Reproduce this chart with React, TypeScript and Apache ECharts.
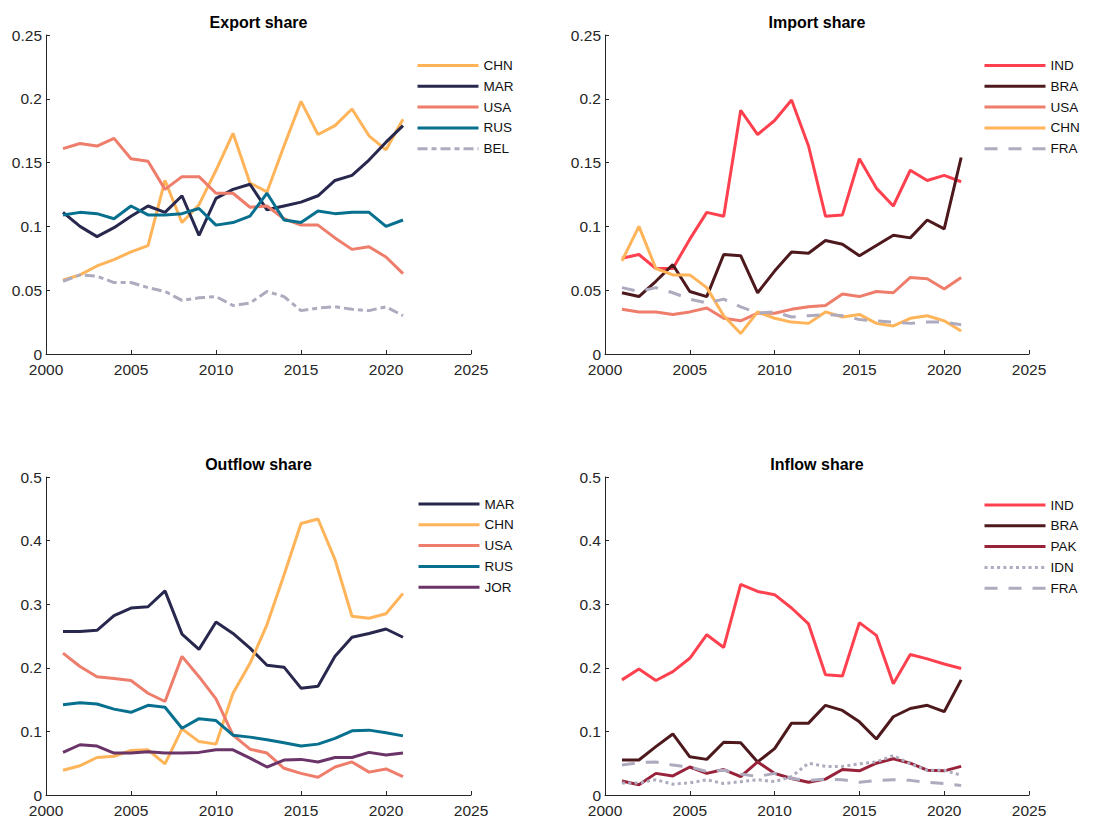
import React, { useEffect, useRef } from "react";
import * as echarts from "echarts";

const years = [2001, 2002, 2003, 2004, 2005, 2006, 2007, 2008, 2009, 2010, 2011, 2012, 2013, 2014, 2015, 2016, 2017, 2018, 2019, 2020, 2021];

// Export share
const exportCHN = [0.058, 0.062, 0.069, 0.074, 0.080, 0.085, 0.136, 0.103, 0.117, 0.144, 0.173, 0.134, 0.127, 0.163, 0.198, 0.172, 0.179, 0.192, 0.171, 0.160, 0.184];
const exportMAR = [0.111, 0.100, 0.092, 0.099, 0.108, 0.116, 0.111, 0.124, 0.093, 0.122, 0.129, 0.133, 0.113, 0.116, 0.119, 0.124, 0.136, 0.140, 0.152, 0.166, 0.179];
const exportUSA = [0.161, 0.165, 0.163, 0.169, 0.153, 0.151, 0.129, 0.139, 0.139, 0.126, 0.126, 0.115, 0.116, 0.106, 0.101, 0.101, 0.091, 0.082, 0.084, 0.076, 0.063];
const exportRUS = [0.109, 0.111, 0.110, 0.106, 0.116, 0.109, 0.109, 0.110, 0.114, 0.101, 0.103, 0.108, 0.126, 0.105, 0.103, 0.112, 0.110, 0.111, 0.111, 0.100, 0.105];
const exportBEL = [0.057, 0.062, 0.061, 0.056, 0.056, 0.052, 0.049, 0.042, 0.044, 0.045, 0.038, 0.040, 0.049, 0.045, 0.034, 0.036, 0.037, 0.035, 0.034, 0.037, 0.030];

// Import share
const importIND = [0.075, 0.078, 0.067, 0.067, 0.090, 0.111, 0.108, 0.191, 0.172, 0.183, 0.199, 0.163, 0.108, 0.109, 0.153, 0.130, 0.116, 0.144, 0.136, 0.140, 0.135];
const importBRA = [0.048, 0.045, 0.057, 0.070, 0.049, 0.045, 0.078, 0.077, 0.048, 0.065, 0.080, 0.079, 0.089, 0.086, 0.077, 0.085, 0.093, 0.091, 0.105, 0.098, 0.154];
const importUSA = [0.035, 0.033, 0.033, 0.031, 0.033, 0.036, 0.028, 0.026, 0.032, 0.032, 0.035, 0.037, 0.038, 0.047, 0.045, 0.049, 0.048, 0.060, 0.059, 0.051, 0.060];
const importCHN = [0.073, 0.100, 0.067, 0.062, 0.062, 0.052, 0.030, 0.016, 0.033, 0.028, 0.025, 0.024, 0.033, 0.029, 0.031, 0.024, 0.022, 0.028, 0.030, 0.026, 0.018];
const importFRA = [0.052, 0.049, 0.052, 0.048, 0.043, 0.040, 0.043, 0.037, 0.032, 0.033, 0.029, 0.030, 0.031, 0.030, 0.027, 0.026, 0.025, 0.024, 0.025, 0.025, 0.023];

// Outflow share
const outMAR = [0.257, 0.257, 0.259, 0.282, 0.294, 0.296, 0.321, 0.253, 0.229, 0.272, 0.254, 0.231, 0.204, 0.201, 0.168, 0.171, 0.218, 0.248, 0.254, 0.261, 0.248];
const outCHN = [0.039, 0.046, 0.059, 0.061, 0.070, 0.071, 0.049, 0.104, 0.084, 0.080, 0.160, 0.207, 0.268, 0.346, 0.427, 0.434, 0.370, 0.281, 0.278, 0.285, 0.317];
const outUSA = [0.223, 0.202, 0.186, 0.183, 0.180, 0.160, 0.147, 0.218, 0.186, 0.151, 0.094, 0.072, 0.066, 0.042, 0.034, 0.028, 0.044, 0.052, 0.036, 0.041, 0.029];
const outRUS = [0.142, 0.145, 0.143, 0.135, 0.130, 0.141, 0.138, 0.105, 0.120, 0.117, 0.094, 0.091, 0.087, 0.082, 0.077, 0.080, 0.089, 0.101, 0.102, 0.098, 0.093];
const outJOR = [0.067, 0.079, 0.077, 0.066, 0.066, 0.068, 0.066, 0.066, 0.067, 0.071, 0.071, 0.058, 0.044, 0.055, 0.056, 0.052, 0.059, 0.059, 0.067, 0.063, 0.066];

// Inflow share
const inIND = [0.181, 0.198, 0.180, 0.194, 0.215, 0.252, 0.232, 0.331, 0.320, 0.315, 0.294, 0.269, 0.189, 0.187, 0.271, 0.251, 0.175, 0.221, 0.214, 0.206, 0.199];
const inBRA = [0.055, 0.055, 0.076, 0.096, 0.060, 0.056, 0.083, 0.082, 0.052, 0.073, 0.113, 0.113, 0.141, 0.133, 0.115, 0.088, 0.123, 0.136, 0.141, 0.131, 0.181];
const inPAK = [0.022, 0.016, 0.034, 0.030, 0.044, 0.034, 0.040, 0.029, 0.052, 0.034, 0.026, 0.020, 0.025, 0.040, 0.038, 0.050, 0.057, 0.050, 0.039, 0.038, 0.045];
const inIDN = [0.019, 0.019, 0.024, 0.017, 0.019, 0.024, 0.018, 0.021, 0.024, 0.021, 0.029, 0.050, 0.045, 0.045, 0.049, 0.052, 0.062, 0.049, 0.039, 0.039, 0.031];
const inFRA = [0.047, 0.051, 0.052, 0.047, 0.044, 0.037, 0.039, 0.033, 0.029, 0.034, 0.026, 0.023, 0.025, 0.024, 0.020, 0.023, 0.024, 0.023, 0.020, 0.018, 0.015];

const xTicks = [2000, 2025, 5]; // min, max, interval
const titles = ["Export share", "Import share", "Outflow share", "Inflow share"];

const COLORS: Record<string, string> = {
  CHN: "#FFB45A",
  MAR: "#28284E",
  USA: "#EE7D6B",
  RUS: "#08708F",
  GREY: "#AEABBF",
  IND: "#FF414F",
  BRA: "#4D191D",
  PAK: "#98223A",
  JOR: "#6B3468",
};

const DASHDOT = [10, 4, 5, 4];
const DASHED = [13, 11];
const DOTTED = [3, 3.3];

const FONT = '"Liberation Sans", Arial, Helvetica, sans-serif';
const AXIS_COLOR = "#262626";

type S = { name: string; data: number[]; color: string; type: any };

const panels: { title: string; grid: any; yMax: number; yInt: number; legend: any; series: S[] }[] = [
  {
    title: titles[0],
    grid: { left: 46, top: 35, width: 425, height: 319 },
    yMax: 0.25,
    yInt: 0.05,
    legend: { left: 416, top: 58.5 },
    series: [
      { name: "CHN", data: exportCHN, color: COLORS.CHN, type: "solid" },
      { name: "MAR", data: exportMAR, color: COLORS.MAR, type: "solid" },
      { name: "USA", data: exportUSA, color: COLORS.USA, type: "solid" },
      { name: "RUS", data: exportRUS, color: COLORS.RUS, type: "solid" },
      { name: "BEL", data: exportBEL, color: COLORS.GREY, type: DASHDOT },
    ],
  },
  {
    title: titles[1],
    grid: { left: 605, top: 35, width: 424, height: 319 },
    yMax: 0.25,
    yInt: 0.05,
    legend: { left: 983, top: 58.5 },
    series: [
      { name: "IND", data: importIND, color: COLORS.IND, type: "solid" },
      { name: "BRA", data: importBRA, color: COLORS.BRA, type: "solid" },
      { name: "USA", data: importUSA, color: COLORS.USA, type: "solid" },
      { name: "CHN", data: importCHN, color: COLORS.CHN, type: "solid" },
      { name: "FRA", data: importFRA, color: COLORS.GREY, type: DASHED },
    ],
  },
  {
    title: titles[2],
    grid: { left: 46, top: 477, width: 425, height: 318 },
    yMax: 0.5,
    yInt: 0.1,
    legend: { left: 417, top: 497 },
    series: [
      { name: "MAR", data: outMAR, color: COLORS.MAR, type: "solid" },
      { name: "CHN", data: outCHN, color: COLORS.CHN, type: "solid" },
      { name: "USA", data: outUSA, color: COLORS.USA, type: "solid" },
      { name: "RUS", data: outRUS, color: COLORS.RUS, type: "solid" },
      { name: "JOR", data: outJOR, color: COLORS.JOR, type: "solid" },
    ],
  },
  {
    title: titles[3],
    grid: { left: 605, top: 477, width: 424, height: 318 },
    yMax: 0.5,
    yInt: 0.1,
    legend: { left: 983, top: 498 },
    series: [
      { name: "IND", data: inIND, color: COLORS.IND, type: "solid" },
      { name: "BRA", data: inBRA, color: COLORS.BRA, type: "solid" },
      { name: "PAK", data: inPAK, color: COLORS.PAK, type: "solid" },
      { name: "IDN", data: inIDN, color: COLORS.GREY, type: DOTTED },
      { name: "FRA", data: inFRA, color: COLORS.GREY, type: DASHED },
    ],
  },
];

function buildOption() {
  const grid = panels.map((p) => ({ ...p.grid, containLabel: false }));
  const xAxis = panels.map((p, i) => ({
    type: "value",
    gridIndex: i,
    min: xTicks[0],
    max: xTicks[1],
    interval: xTicks[2],
    splitLine: { show: false },
    axisLine: { show: true, onZero: false, lineStyle: { color: AXIS_COLOR, width: 1 } },
    axisTick: { show: true, inside: true, length: 4, lineStyle: { color: AXIS_COLOR } },
    axisLabel: { margin: 7, color: AXIS_COLOR, fontSize: 15.5, fontFamily: FONT, formatter: (v: number) => String(v) },
  }));
  const yAxis = panels.map((p, i) => ({
    type: "value",
    gridIndex: i,
    min: 0,
    max: p.yMax,
    interval: p.yInt,
    splitLine: { show: false },
    axisLine: { show: true, onZero: false, lineStyle: { color: AXIS_COLOR, width: 1 } },
    axisTick: { show: true, inside: true, length: 4, lineStyle: { color: AXIS_COLOR } },
    axisLabel: {
      margin: 4,
      color: AXIS_COLOR,
      fontSize: 15.5,
      fontFamily: FONT,
      formatter: (v: number) => String(+v.toFixed(2)),
    },
  }));
  const series: any[] = [];
  panels.forEach((p, i) => {
    p.series.forEach((s) => {
      series.push({
        type: "line",
        name: s.name,
        xAxisIndex: i,
        yAxisIndex: i,
        data: years.map((y, k) => [y, s.data[k]]),
        symbol: "none",
        showSymbol: false,
        lineStyle: { width: 3, color: s.color, type: s.type },
        itemStyle: { color: s.color },
        emphasis: { disabled: true },
      });
    });
  });
  const legend = panels.map((p) => ({
    data: p.series.map((s) => s.name),
    orient: "vertical",
    left: p.legend.left,
    top: p.legend.top,
    padding: 0,
    itemWidth: 61,
    itemHeight: 14,
    itemGap: 6.8,
    selectedMode: false,
    lineStyle: { width: 3 },
    itemStyle: { opacity: 0, color: "rgba(0,0,0,0)", borderColor: "rgba(0,0,0,0)", borderWidth: 0 },
    textStyle: { fontSize: 13.5, color: "#111", fontFamily: FONT, lineHeight: 14 },
  }));
  const graphic = panels.map((p) => ({
    type: "text",
    x: p.grid.left + p.grid.width / 2,
    y: p.grid.top - 12.5,
    style: {
      text: p.title,
      textAlign: "center",
      textVerticalAlign: "middle",
      fontSize: 16,
      fontWeight: "bold",
      fontFamily: FONT,
      fill: "#000",
    },
  }));
  return {
    animation: false,
    backgroundColor: "#ffffff",
    grid,
    xAxis,
    yAxis,
    series,
    legend,
    graphic,
  };
}

export default function App() {
  const ref = useRef<HTMLDivElement>(null);
  useEffect(() => {
    if (!ref.current) return;
    const chart = echarts.init(ref.current, undefined, { renderer: "svg" });
    chart.setOption(buildOption() as any);
    return () => chart.dispose();
  }, []);
  return (
    <div
      ref={ref}
      style={{ position: "absolute", left: 0, top: 0, width: 1095, height: 828, background: "#fff" }}
    />
  );
}
